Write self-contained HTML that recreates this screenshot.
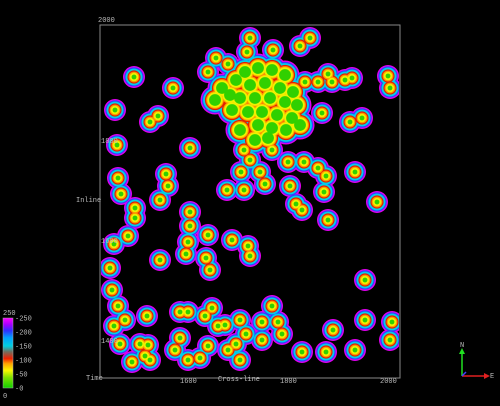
<!DOCTYPE html>
<html><head><meta charset="utf-8"><style>
html,body{margin:0;padding:0;background:#000;width:500px;height:406px;overflow:hidden}
svg{display:block}
text{font-family:"Liberation Mono",monospace;font-size:7px;fill:#bbb}
</style></head><body>
<svg id="chart" width="500" height="406" viewBox="0 0 500 406">
<defs>
<clipPath id="clip"><rect x="101" y="26" width="298" height="351"/></clipPath>
<linearGradient id="cbar" x1="0" y1="1" x2="0" y2="0">
<stop offset="0" stop-color="#10d000"/><stop offset="0.15" stop-color="#80e000"/>
<stop offset="0.25" stop-color="#f8f800"/><stop offset="0.35" stop-color="#ffa000"/>
<stop offset="0.42" stop-color="#f02000"/><stop offset="0.52" stop-color="#707060"/>
<stop offset="0.6" stop-color="#00d0e0"/><stop offset="0.72" stop-color="#00a0ff"/>
<stop offset="0.82" stop-color="#3030ff"/><stop offset="0.9" stop-color="#a000ff"/>
<stop offset="1" stop-color="#ff00ff"/></linearGradient>
</defs>
<g id="blobs" clip-path="url(#clip)"></g>
<rect x="100" y="25" width="300" height="353" fill="none" stroke="#888" stroke-width="1"/>
<g id="axes"></g>
<text x="98" y="22">2000</text>
<text x="86" y="380">Time</text>
<text x="218" y="381">Cross-line</text>
<text x="76" y="202">Inline</text>
<g>
<rect x="3" y="318" width="10" height="70" fill="url(#cbar)" stroke="#aaa" stroke-width="0.5"/>
<text x="3" y="315">250</text><text x="3" y="398">0</text>
<g id="cbticks"></g>
</g>
<g>
<line x1="462" y1="376" x2="462" y2="352" stroke="#20e020" stroke-width="1.5"/>
<polygon points="459,354 465,354 462,348" fill="#20e020"/>
<line x1="462" y1="376" x2="486" y2="376" stroke="#e02020" stroke-width="1.5"/>
<polygon points="484,373 484,379 490,376" fill="#e02020"/>
<line x1="462" y1="376" x2="466" y2="372" stroke="#4040ff" stroke-width="1.5"/>
<text x="460" y="347">N</text><text x="490" y="378">E</text>
</g>
</svg>
<script>
const blobPts = [[1726,2006],[1720,1978],[1772,1982],[1826,1990],[1846,2006],[1658,1966],[1682,1954],[1642,1938],[1494,1928],[1572,1906],[1456,1862],[1526,1838],[1542,1850],[1460,1792],[1606,1786],[1870,1856],[1926,1838],[1950,1846],[2002,1930],[2006,1906],[1714,1782],[1726,1762],[1770,1782],[1708,1738],[1746,1738],[1802,1758],[1834,1758],[1862,1746],[1878,1730],[1936,1738],[1680,1702],[1714,1702],[1756,1714],[1806,1710],[1818,1674],[1830,1662],[1874,1698],[1882,1642],[1980,1678],[1462,1726],[1468,1694],[1496,1666],[1496,1646],[1546,1682],[1558,1734],[1562,1710],[1606,1658],[1606,1630],[1602,1598],[1598,1574],[1642,1612],[1690,1602],[1722,1590],[1726,1570],[1482,1610],[1454,1594],[1546,1562],[1638,1566],[1646,1542],[1446,1546],[1450,1502],[1462,1470],[1454,1430],[1466,1394],[1490,1358],[1516,1370],[1506,1394],[1476,1442],[1520,1450],[1586,1458],[1602,1458],[1636,1450],[1650,1466],[1662,1430],[1706,1442],[1718,1414],[1750,1438],[1770,1470],[1782,1438],[1790,1414],[1642,1390],[1586,1406],[1626,1366],[1682,1382],[1698,1394],[1706,1362],[1602,1362],[1830,1378],[1878,1378],[1892,1422],[1936,1382],[1956,1442],[2010,1438],[2006,1402],[1956,1522],[1522,1392],[1526,1362],[1576,1382],[1750,1402],[1676,1432],[1836,1918],[1862,1918],[1890,1918],[1916,1922],[1930,1926],[1882,1934]];
const clusterPts = [[1716,1938],[1742,1946],[1770,1942],[1796,1932],[1726,1912],[1756,1916],[1786,1906],[1812,1898],[1706,1886],[1736,1886],[1766,1886],[1796,1878],[1820,1872],[1722,1858],[1750,1858],[1780,1852],[1810,1846],[1742,1832],[1770,1826],[1798,1822],[1762,1806],[1686,1892],[1670,1906],[1690,1862],[1698,1922],[1656,1882],[1706,1822],[1736,1802],[1826,1832]];
const xTicks = [1600,1800,2000];
const yTicks = [1800,1600,1400];
const cbTicks = [0,50,100,150,200,250];

const NS='http://www.w3.org/2000/svg';
const xS = v => 187 + (v-1600)*0.5;
const yS = v => 241 - (v-1600)*0.5;
const cbS = v => 388 - v/250*70;
const layers = [['#e000f0',11],['#3040ff',9.6],['#00d0e8',8.4],['#e02000',6.6],['#ff9000',5.4],['#f0f000',4.3],['#30d000',2.4]];
const g = document.getElementById('blobs');
layers.forEach(([col,r])=>{
  const lg=document.createElementNS(NS,'g');
  lg.setAttribute('fill',col);
  
  
  blobPts.forEach(p=>{const c=document.createElementNS(NS,'circle');
    c.setAttribute('cx',xS(p[0]));c.setAttribute('cy',yS(p[1]));c.setAttribute('r',r);
    
    
    lg.appendChild(c);});
  clusterPts.forEach(p=>{const c=document.createElementNS(NS,'circle');
    c.setAttribute('cx',xS(p[0]));c.setAttribute('cy',yS(p[1]));c.setAttribute('r',r+3.5);
    
    
    lg.appendChild(c);});
  g.appendChild(lg);
});
const ax=document.getElementById('axes');
xTicks.forEach(v=>{const t=document.createElementNS(NS,'text');
  t.setAttribute('x',xS(v)-7);t.setAttribute('y',383);t.textContent=v;
  
  
  ax.appendChild(t);});
yTicks.forEach(v=>{const t=document.createElementNS(NS,'text');
  t.setAttribute('x',101);t.setAttribute('y',yS(v)+2);t.textContent=v;
  
  
  ax.appendChild(t);});
const cb=document.getElementById('cbticks');
cbTicks.forEach(v=>{const t=document.createElementNS(NS,'text');
  t.setAttribute('x',15);t.setAttribute('y',cbS(v)+2.5);t.textContent='-'+v;
  
  
  cb.appendChild(t);});
</script>
</body></html>
